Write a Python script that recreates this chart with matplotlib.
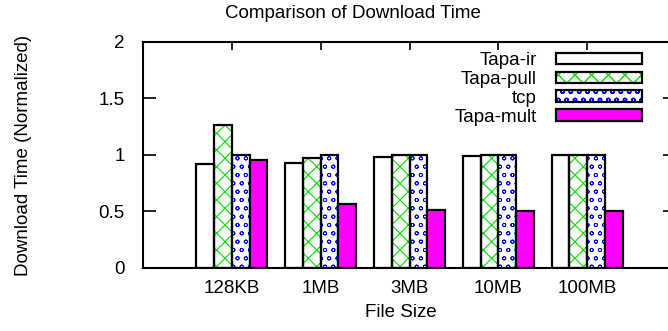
import matplotlib
matplotlib.use("Agg")
import matplotlib.pyplot as plt
from matplotlib.legend_handler import HandlerTuple
import numpy as np

# Normalized download time per file size
sizes = ["128KB", "1MB", "3MB", "10MB", "100MB"]
tapa_ir = [0.92, 0.93, 0.98, 0.99, 1.00]
tapa_pull = [1.265, 0.97, 0.995, 1.00, 1.00]
tcp = [1.00, 1.00, 1.00, 1.00, 1.00]
tapa_mult = [0.95, 0.56, 0.51, 0.505, 0.50]

# label, values, fill, hatch, hatch colour, hatch line width
series = [
    ("Tapa-ir", tapa_ir, "white", None, None, 0),
    ("Tapa-pull", tapa_pull, "white", "xx", "#00dd00", 0.8),
    ("tcp", tcp, "white", "oo", "#0000ff", 0.6),
    ("Tapa-mult", tapa_mult, "#ff00ff", None, None, 0),
]

plt.rcParams["font.family"] = ["Liberation Sans", "DejaVu Sans"]

W, H = 668, 331
fs = 13.5
fig = plt.figure(figsize=(W / 100, H / 100), dpi=100)
ax = fig.add_axes([143 / W, (H - 267.7) / H, (676 - 143) / W, (267.7 - 41.7) / H])

x = np.arange(1, len(sizes) + 1)
bw = 0.2
handles = []
for i, (label, vals, face, hatch, hcol, hlw) in enumerate(series):
    pos = x + (i - 1.5) * bw
    if hatch:
        with plt.rc_context({"hatch.linewidth": hlw}):
            ax.bar(pos, vals, bw, color=face, hatch=hatch, edgecolor=hcol, linewidth=0, zorder=1)
            hp = plt.Rectangle((0, 0), 1, 1, facecolor=face, hatch=hatch, edgecolor=hcol, linewidth=0)
        ax.bar(pos, vals, bw, facecolor="none", edgecolor="black", linewidth=1.6, zorder=2)
        h = (hp, plt.Rectangle((0, 0), 1, 1, facecolor="none", edgecolor="black", linewidth=1.6))
    else:
        ax.bar(pos, vals, bw, color=face, edgecolor="black", linewidth=1.6, zorder=2)
        h = plt.Rectangle((0, 0), 1, 1, facecolor=face, edgecolor="black", linewidth=1.6)
    handles.append(h)

ax.set_xlim(0, 6)
ax.set_ylim(0, 2)
ax.set_xticks(x)
ax.set_xticklabels(sizes, fontsize=fs)
ax.set_yticks([0, 0.5, 1, 1.5, 2])
ax.set_yticklabels(["0", "0.5", "1", "1.5", "2"], fontsize=fs)
ax.tick_params(axis="x", direction="in", length=5.8, width=1.2, top=True, pad=9)
ax.tick_params(axis="y", direction="in", length=9.4, width=1.2, right=True, pad=13)
for s in ax.spines.values():
    s.set_linewidth(1.5)

fig.text(401 / W, (H - 317) / H, "File Size", ha="center", va="baseline", fontsize=fs)
fig.text(24 / W, (H - 155) / H, "Download Time (Normalized)", rotation=90,
         ha="center", va="center", fontsize=fs)
fig.text(353 / W, (H - 18) / H, "Comparison of Download Time", ha="center",
         va="baseline", fontsize=fs)

leg = ax.legend(handles, [s[0] for s in series], loc="upper right",
                bbox_to_anchor=(642 / W, (H - 52) / H), bbox_transform=fig.transFigure,
                frameon=False, markerfirst=False, fontsize=fs, handlelength=4.6,
                handleheight=0.55, handletextpad=1.0, labelspacing=0.1, borderpad=0,
                borderaxespad=0, handler_map={tuple: HandlerTuple(ndivide=1)})

fig.savefig("out.png", dpi=100)
